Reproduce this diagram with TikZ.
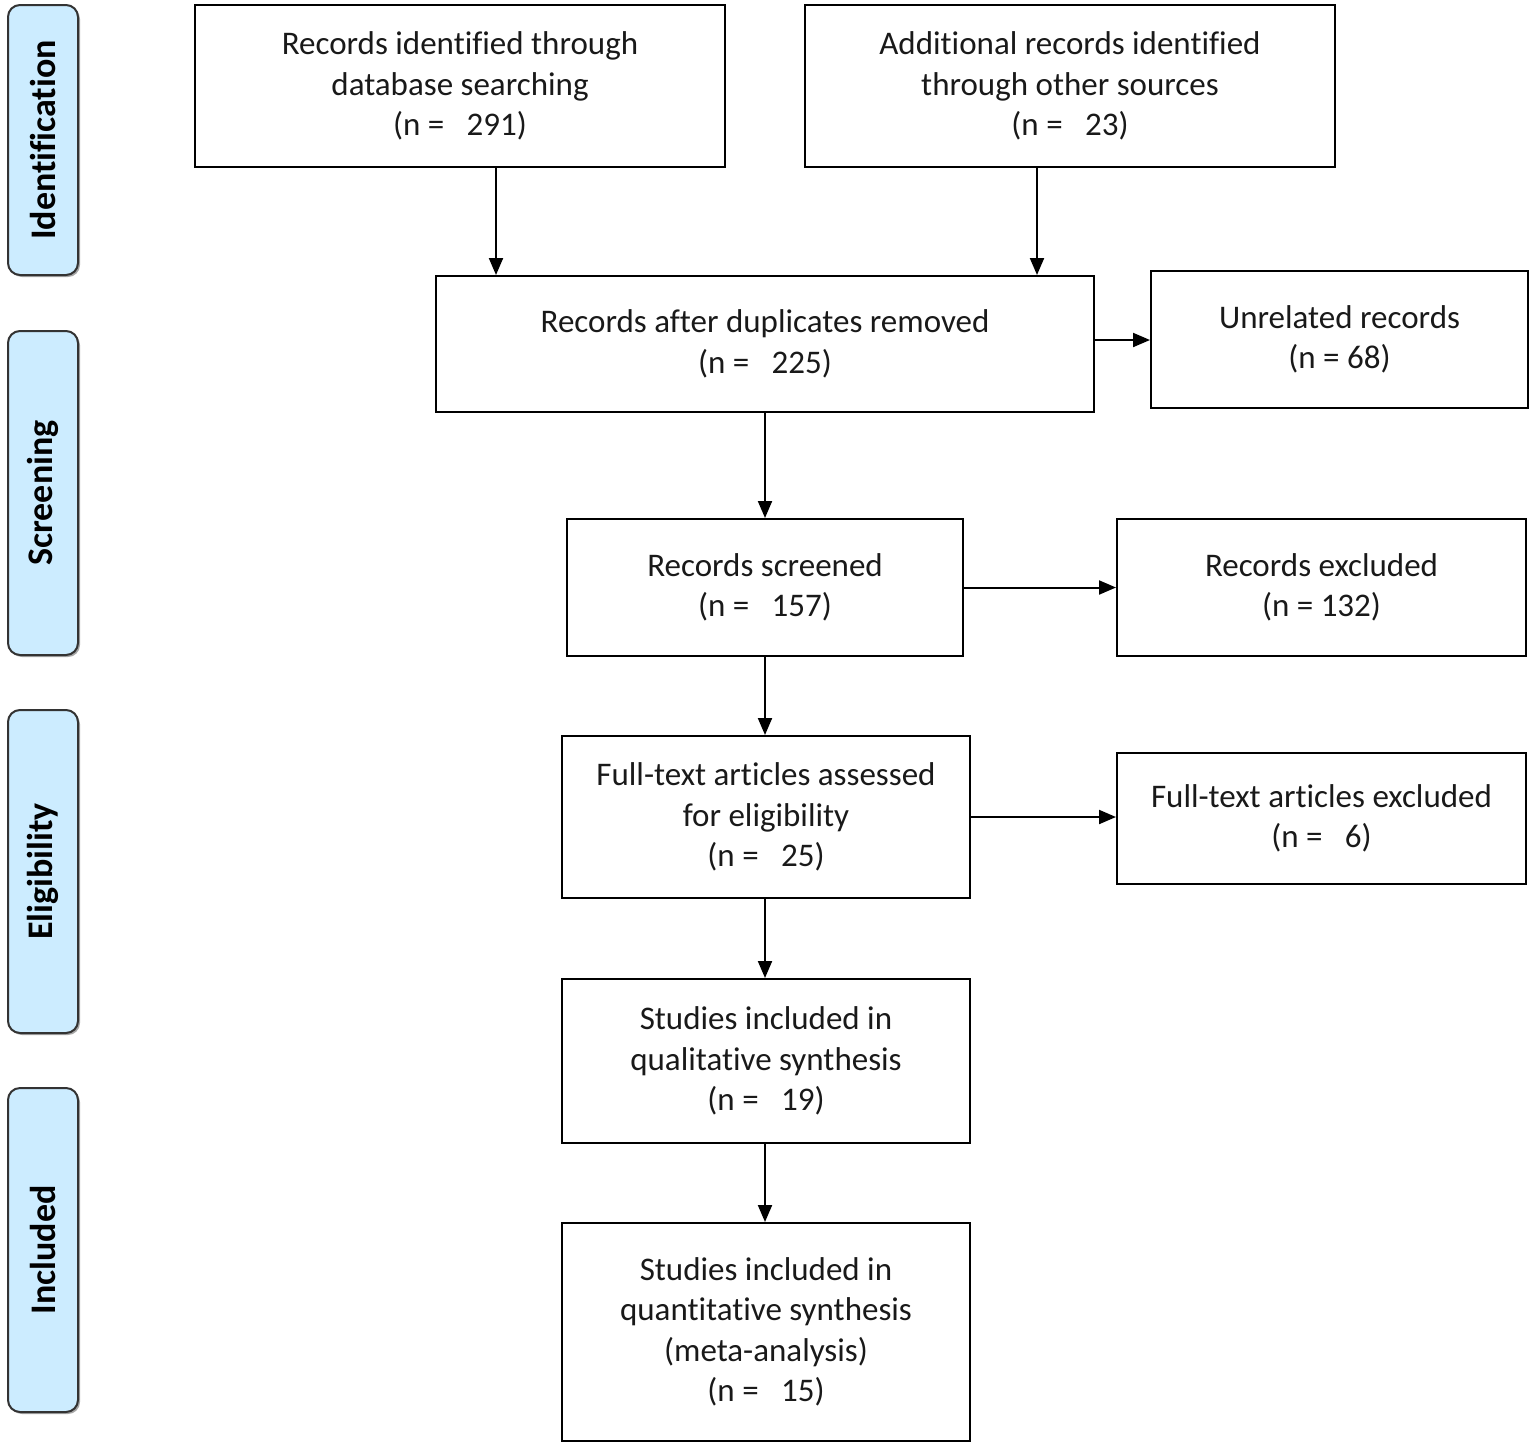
\documentclass[tikz,border=0pt]{standalone}
\usepackage{fontspec}
\setmainfont{Carlito}[Ligatures=NoCommon]
\usetikzlibrary{arrows.meta,shadows}
\definecolor{sidefill}{HTML}{CCECFF}
\definecolor{sidedraw}{HTML}{333333}
\begin{document}
\begin{tikzpicture}[x=1pt,y=-1pt,
  box/.style={draw=black,line width=2pt,rectangle,inner sep=0pt,align=center,
    font=\fontsize{33}{40.5}\selectfont,text=black!90},
  side/.style={draw=sidedraw,fill=sidefill,line width=2pt,rounded corners=12pt,
    rotate=90,minimum height=70pt,inner sep=0pt,
    font=\fontsize{36}{40}\selectfont\bfseries,
    drop shadow={shadow xshift=2pt,shadow yshift=-2pt,opacity=0.35,fill=black}},
  arr/.style={line width=2pt,-{Triangle[length=17pt,width=14pt]}}]
\useasboundingbox (0,0) rectangle (1533,1446);

% side labels
\node[side,minimum width=270pt] (s1) at (43,140) {Identification};
\node[side,minimum width=324pt] (s2) at (43,493) {Screening};
\node[side,minimum width=323pt] (s3) at (43,871.5) {Eligibility};
\node[side,minimum width=324pt] (s4) at (43,1250) {Included};

% boxes
\node[box,minimum width=530pt,minimum height=162pt] (A) at (460,86)
  {Records identified through\\database searching\\(n =\ \ \ 291)};
\node[box,minimum width=530pt,minimum height=162pt] (B) at (1070,86)
  {Additional records identified\\through other sources\\(n =\ \ \ 23)};
\node[box,minimum width=658pt,minimum height=136pt] (C) at (765,344)
  {Records after duplicates removed\\(n =\ \ \ 225)};
\node[box,minimum width=377pt,minimum height=137pt] (D) at (1339.5,339.5)
  {Unrelated records\\(n = 68)};
\node[box,minimum width=396pt,minimum height=137pt] (E) at (765,587.5)
  {Records screened\\(n =\ \ \ 157)};
\node[box,minimum width=409pt,minimum height=137pt] (F) at (1321.5,587.5)
  {Records excluded\\(n = 132)};
\node[box,minimum width=408pt,minimum height=162pt] (G) at (766,817)
  {Full-text articles assessed\\for eligibility\\(n =\ \ \ 25)};
\node[box,minimum width=409pt,minimum height=131pt] (H) at (1321.5,818.5)
  {Full-text articles excluded\\(n =\ \ \ 6)};
\node[box,minimum width=408pt,minimum height=164pt] (I) at (766,1061)
  {Studies included in\\qualitative synthesis\\(n =\ \ \ 19)};
\node[box,minimum width=408pt,minimum height=218pt] (J) at (766,1332)
  {Studies included in\\quantitative synthesis\\(meta-analysis)\\(n =\ \ \ 15)};

% connectors
\coordinate (ax) at (496,0);
\coordinate (bx) at (1037,0);
\coordinate (cx) at (765,0);
\coordinate (cy) at (0,340);
\coordinate (gy) at (0,817);
\draw[arr] (A.south -| ax) -- (C.north -| ax);
\draw[arr] (B.south -| bx) -- (C.north -| bx);
\draw[arr] (C.east |- cy) -- (D.west |- cy);
\draw[arr] (C.south -| cx) -- (E.north -| cx);
\draw[arr] (E.east) -- (F.west);
\draw[arr] (E.south -| cx) -- (G.north -| cx);
\draw[arr] (G.east |- gy) -- (H.west |- gy);
\draw[arr] (G.south -| cx) -- (I.north -| cx);
\draw[arr] (I.south -| cx) -- (J.north -| cx);
\end{tikzpicture}
\end{document}
